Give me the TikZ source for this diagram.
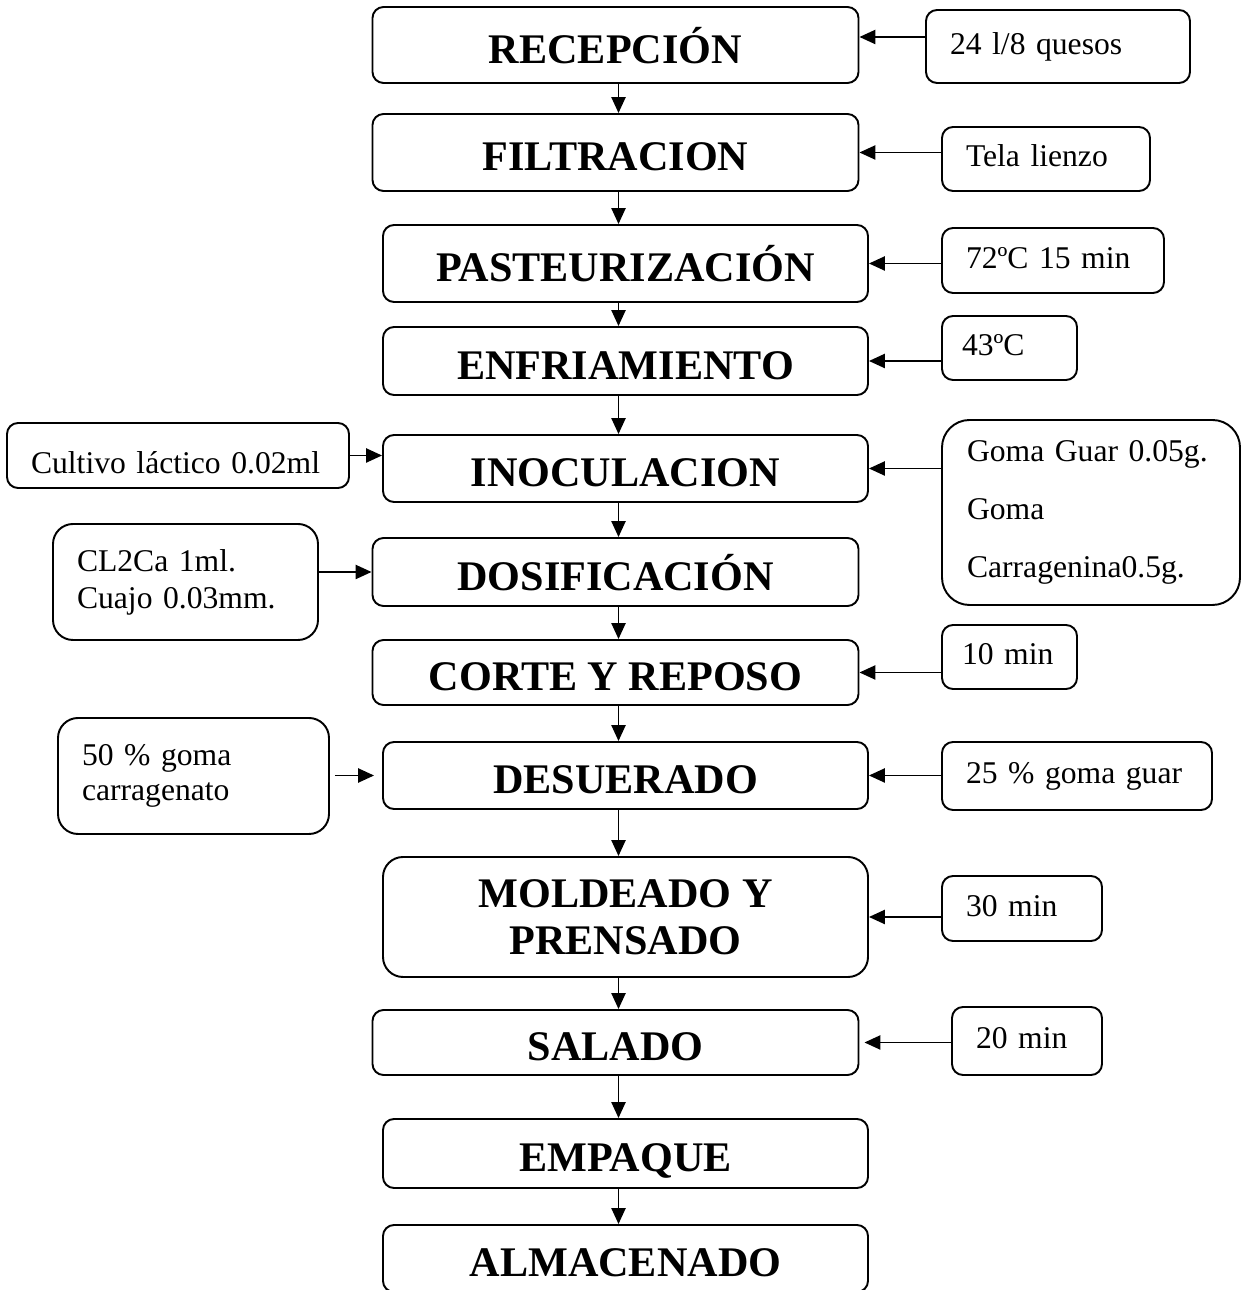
\documentclass[tikz,border=0pt]{standalone}
\usepackage{fontspec}
\setmainfont{Liberation Serif}
\usetikzlibrary{arrows.meta}

\tikzset{
  stagebox/.style={draw, line width=1.1pt, rounded corners=0.22cm, align=center, inner sep=0pt,
    font=\fontsize{24}{27}\selectfont\bfseries},
  stage/.style={stagebox, text height=21pt, text depth=0pt},
  notebox/.style={draw, line width=1.1pt, rounded corners=0.22cm, align=left,
    inner xsep=0.48cm, inner ysep=0pt, font=\fontsize{18}{21}\selectfont},
  note/.style={notebox, text height=13pt, text depth=4pt},
  flow/.style={-{Triangle[length=9pt,width=8pt]}, line width=1pt}
}

\begin{document}
\begin{tikzpicture}
  \useasboundingbox (0,0) rectangle (24.84,25.8);
  \coordinate (axis) at (12.37,0);

  % Process stages (main column)
  \node[stage, minimum width=9.72cm, minimum height=1.52cm] (recep) at (12.31,24.90) {RECEPCIÓN};
  \node[stage, minimum width=9.72cm, minimum height=1.54cm] (filtr) at (12.31,22.75) {FILTRACION};
  \node[stage, minimum width=9.70cm, minimum height=1.54cm] (paste) at (12.51,20.53) {PASTEURIZACIÓN};
  \node[stage, minimum width=9.70cm, minimum height=1.36cm] (enfri) at (12.51,18.58) {ENFRIAMIENTO};
  \node[stage, minimum width=9.70cm, minimum height=1.34cm] (inocu) at (12.51,16.43) {INOCULACION};
  \node[stage, minimum width=9.72cm, minimum height=1.36cm] (dosif) at (12.31,14.36) {DOSIFICACIÓN};
  \node[stage, minimum width=9.72cm, minimum height=1.30cm] (corte) at (12.31,12.35) {CORTE Y REPOSO};
  \node[stage, minimum width=9.70cm, minimum height=1.34cm] (desue) at (12.51,10.29) {DESUERADO};
  \node[stagebox, rounded corners=0.4cm, text depth=-6pt, minimum width=9.70cm, minimum height=2.40cm] (molde) at (12.51,7.46) {MOLDEADO Y\\PRENSADO};
  \node[stage, minimum width=9.72cm, minimum height=1.30cm] (salad) at (12.31,4.95) {SALADO};
  \node[stage, minimum width=9.70cm, minimum height=1.38cm] (empaq) at (12.51,2.73) {EMPAQUE};
  \node[stage, minimum width=9.70cm, minimum height=1.34cm] (almac) at (12.51,0.63) {ALMACENADO};

  % Flow down the column
  \foreach \a/\b in {recep/filtr, filtr/paste, paste/enfri, enfri/inocu, inocu/dosif, dosif/corte,
                     corte/desue, desue/molde, molde/salad, salad/empaq, empaq/almac}
    \draw[flow] (\a.south -| axis) -- (\b.north -| axis);

  % Inputs on the right
  \node[note, text width=4.32cm, minimum height=1.46cm] (leche) at (21.16,24.87) {24 l/8 quesos};
  \node[note, text width=3.20cm, minimum height=1.28cm] (tela) at (20.92,22.62) {Tela lienzo};
  \node[note, text width=3.48cm, minimum height=1.30cm] (tpast) at (21.06,20.59) {72ºC 15 min};
  \node[note, inner xsep=0.40cm, text width=1.90cm, minimum height=1.28cm] (tenfr) at (20.19,18.84) {43ºC};
  \node[notebox, rounded corners=0.55cm, inner xsep=0.50cm, text width=4.96cm, minimum height=3.70cm,
        font=\fontsize{18}{33}\selectfont] (gomas) at (21.82,15.55) {Goma Guar 0.05g.\\Goma\\Carragenina0.5g.};
  \node[note, inner xsep=0.40cm, text width=1.90cm, minimum height=1.28cm] (treposo) at (20.19,12.66) {10 min};
  \node[note, text width=4.44cm, minimum height=1.36cm] (guar) at (21.54,10.28) {25 \% goma guar};
  \node[note, text width=2.24cm, minimum height=1.30cm] (tprensa) at (20.44,7.63) {30 min};
  \node[note, text width=2.04cm, minimum height=1.36cm] (tsal) at (20.54,4.98) {20 min};

  % Inputs on the left
  \node[note, text height=20pt, text depth=0pt, text width=5.88cm, minimum height=1.30cm] (cultivo) at (3.56,16.69) {Cultivo láctico 0.02ml};
  \node[notebox, rounded corners=0.4cm, text width=4.34cm, minimum height=2.32cm] (cuajo) at (3.71,14.16) {CL2Ca 1ml.\\Cuajo 0.03mm.};
  \node[notebox, rounded corners=0.4cm, text width=4.46cm, minimum height=2.32cm,
        font=\fontsize{18}{20}\selectfont] (carrag) at (3.87,10.28) {50 \% goma\\carragenato};

  % Input arrows
  \draw[flow] ([yshift=0.16cm]leche.west |- recep.east) -- ([yshift=0.16cm]recep.east);
  \draw[flow] (tela.west |- filtr.east) -- (filtr.east);
  \draw[flow] (tpast.west |- paste.east) -- (paste.east);
  \draw[flow] (tenfr.west |- enfri.east) -- (enfri.east);
  \draw[flow] (gomas.west |- inocu.east) -- (inocu.east);
  \draw[flow] (treposo.west |- corte.east) -- (corte.east);
  \draw[flow] (guar.west |- desue.east) -- (desue.east);
  \draw[flow] (tprensa.west |- molde.east) -- (molde.east);
  \draw[flow, shorten >=0.1cm] (tsal.west |- salad.east) -- (salad.east);
  \draw[flow] (cultivo.east) -- (cultivo.east -| inocu.west);
  \draw[flow] (cuajo.east |- dosif.west) -- (dosif.west);
  \draw[flow, shorten <=0.1cm, shorten >=0.16cm] (carrag.east |- desue.west) -- (desue.west);
\end{tikzpicture}
\end{document}
